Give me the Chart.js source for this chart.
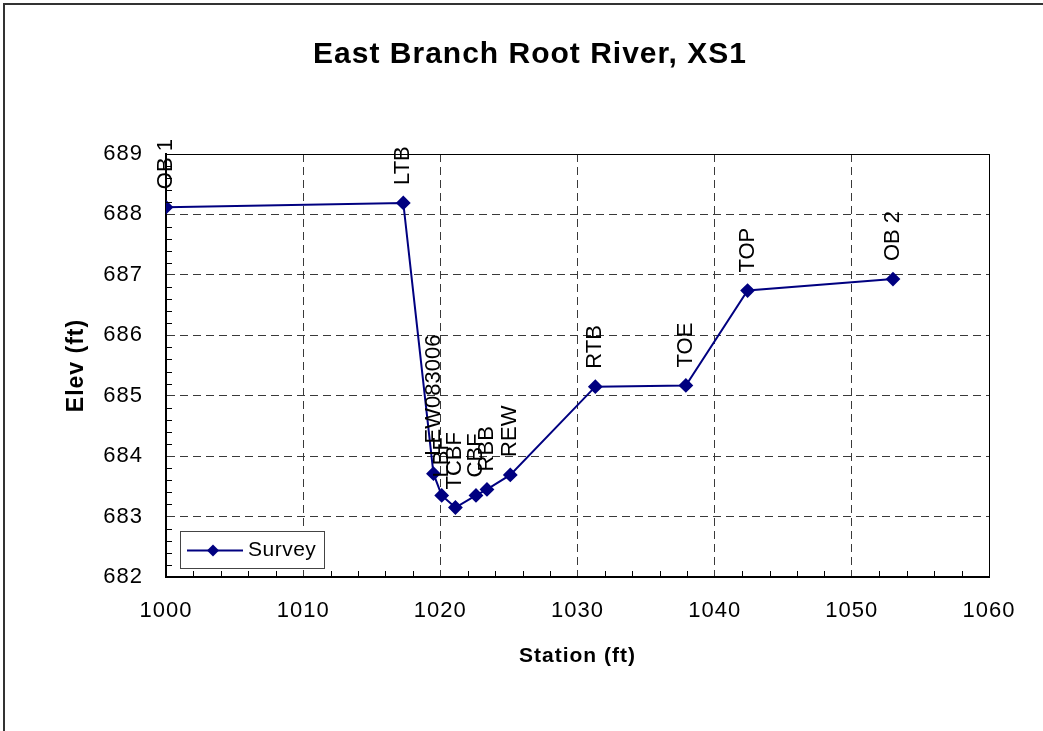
<!DOCTYPE html>
<html>
<head>
<meta charset="utf-8">
<title>East Branch Root River, XS1</title>
<script src="https://cdn.jsdelivr.net/npm/chart.js@4/dist/chart.umd.min.js"></script>
<style>
  html, body { margin: 0; padding: 0; background: #fff; }
  canvas { display: block; }
</style>
</head>
<body>
<canvas id="xs1" width="1043" height="731"></canvas>
<script>
// --- Data ---
const stations = [1000.0, 1017.3, 1019.5, 1020.1, 1021.1, 1022.6, 1023.4, 1025.1, 1031.3, 1037.9, 1042.4, 1053.0];
const elevations = [688.12, 688.19, 683.71, 683.35, 683.15, 683.35, 683.45, 683.69, 685.15, 685.17, 686.74, 686.93];
const pointNames = ["OB 1", "LTB", "LEW083006", "LBF", "TCBF", "CBF", "RBB", "REW", "RTB", "TOE", "TOP", "OB 2"];

const xTicks = [1000, 1010, 1020, 1030, 1040, 1050, 1060];
const yTicks = [682, 683, 684, 685, 686, 687, 688, 689];

const chartTitle = "East Branch Root River, XS1";

const NAVY = "#000080";
const FONT = "Arial, 'Liberation Sans', sans-serif";

// white page, outer chart frame, title
const framePlugin = {
    id: "frame",
    beforeUpdate(chart) {
        chart.ctx.letterSpacing = "1px";
    },
    beforeDraw(chart) {
        const ctx = chart.ctx;
        ctx.letterSpacing = "1px";
        ctx.save();
        ctx.fillStyle = "#fff";
        ctx.fillRect(0, 0, chart.width, chart.height);
        ctx.strokeStyle = "#333";
        ctx.lineWidth = 2;
        ctx.beginPath();
        ctx.moveTo(4, chart.height + 5);
        ctx.lineTo(4, 4);
        ctx.lineTo(chart.width + 5, 4);
        ctx.stroke();

        ctx.fillStyle = "#000";
        ctx.font = "bold 30px " + FONT;
        ctx.textAlign = "center";
        ctx.textBaseline = "middle";
        ctx.fillText(chartTitle, 530, 55);
        ctx.restore();
    }
};

// minor ticks, plot box, point names, legend
const extrasPlugin = {
    id: "extras",
    afterDatasetsDraw(chart) {
        const ctx = chart.ctx;
        const area = chart.chartArea;
        const xs = chart.scales.x;
        const ys = chart.scales.y;
        ctx.save();
        ctx.letterSpacing = "0px";

        // top / right sides of the plot box
        ctx.strokeStyle = "#000";
        ctx.lineWidth = 1;
        ctx.beginPath();
        ctx.moveTo(area.left, area.top + 0.5);
        ctx.lineTo(area.right + 0.5, area.top + 0.5);
        ctx.lineTo(area.right + 0.5, area.bottom);
        ctx.stroke();

        // minor ticks
        ctx.beginPath();
        for (let i = 1; i < 35; i++) {
            if (i % 5 === 0) continue;
            const py = Math.round(ys.getPixelForValue(682 + i * 0.2)) + 0.5;
            ctx.moveTo(area.left, py);
            ctx.lineTo(area.left + 6, py);
        }
        for (let i = 1; i < 30; i++) {
            if (i % 5 === 0) continue;
            const px = Math.round(xs.getPixelForValue(1000 + i * 2)) + 0.5;
            ctx.moveTo(px, area.bottom);
            ctx.lineTo(px, area.bottom - 6);
        }
        ctx.stroke();

        // rotated point names
        const meta = chart.getDatasetMeta(0);
        ctx.fillStyle = "#000";
        ctx.font = "22px " + FONT;
        ctx.textAlign = "left";
        ctx.textBaseline = "middle";
        meta.data.forEach((pt, i) => {
            ctx.save();
            ctx.translate(pt.x, pt.y - 18);
            ctx.rotate(-Math.PI / 2);
            ctx.fillText(pointNames[i], 0, 0);
            ctx.restore();
        });

        // legend box (lower left, inside plot)
        const lx = 180.5, ly = 531.5, lw = 144, lh = 37;
        ctx.fillStyle = "#fff";
        ctx.fillRect(lx, ly, lw, lh);
        ctx.strokeStyle = "#444";
        ctx.lineWidth = 1;
        ctx.strokeRect(lx, ly, lw, lh);
        const my = ly + lh / 2 + 0.5;
        ctx.strokeStyle = NAVY;
        ctx.lineWidth = 2;
        ctx.beginPath();
        ctx.moveTo(187, my);
        ctx.lineTo(243, my);
        ctx.stroke();
        ctx.fillStyle = NAVY;
        ctx.beginPath();
        ctx.moveTo(207, my);
        ctx.lineTo(213, my - 6);
        ctx.lineTo(219, my);
        ctx.lineTo(213, my + 6);
        ctx.closePath();
        ctx.fill();
        ctx.fillStyle = "#000";
        ctx.font = "21px " + FONT;
        ctx.letterSpacing = "0.5px";
        ctx.textBaseline = "middle";
        ctx.fillText(chart.data.datasets[0].label, 248, my);

        ctx.restore();
    }
};

const points = stations.map((s, i) => ({ x: s, y: elevations[i] }));

new Chart(document.getElementById("xs1"), {
    type: "scatter",
    data: {
        datasets: [
            {
                label: "Survey",
                data: points,
                showLine: true,
                borderColor: NAVY,
                backgroundColor: NAVY,
                borderWidth: 2,
                pointStyle: "rectRot",
                pointRadius: 6,
                pointHoverRadius: 6,
                tension: 0
            }
        ]
    },
    options: {
        responsive: false,
        animation: false,
        events: [],
        layout: { padding: { top: 154, right: 54, bottom: 4, left: 4 } },
        plugins: {
            legend: { display: false },
            tooltip: { enabled: false },
            title: { display: false }
        },
        scales: {
            x: {
                type: "linear",
                min: 1000,
                max: 1060,
                afterFit: (s) => { s.height = 150; },
                afterBuildTicks: (s) => { s.ticks = xTicks.map(v => ({ value: v })); },
                ticks: {
                    color: "#000",
                    font: { family: FONT, size: 22 },
                    padding: 21,
                    maxRotation: 0,
                    callback: (v) => String(v)
                },
                grid: { color: "#3a3a3a", lineWidth: 1, drawTicks: false },
                border: { display: true, color: "#000", width: 2, dash: [8, 5] },
                title: {
                    display: true,
                    text: "Station (ft)",
                    color: "#000",
                    font: { family: FONT, size: 21, weight: "bold", lineHeight: 1.2 },
                    padding: { top: 0, bottom: 58 }
                }
            },
            y: {
                type: "linear",
                min: 682,
                max: 689,
                afterFit: (s) => { s.width = 162; },
                afterBuildTicks: (s) => { s.ticks = yTicks.map(v => ({ value: v })); },
                ticks: {
                    color: "#000",
                    font: { family: FONT, size: 22 },
                    padding: 23,
                    callback: (v) => String(v)
                },
                grid: { color: "#3a3a3a", lineWidth: 1, drawTicks: false },
                border: { display: true, color: "#000", width: 2, dash: [8, 5] },
                title: {
                    display: true,
                    text: "Elev (ft)",
                    color: "#000",
                    font: { family: FONT, size: 23, weight: "bold", lineHeight: 1.2 },
                    padding: { top: 59, bottom: 0 }
                }
            }
        }
    },
    plugins: [framePlugin, extrasPlugin]
});
</script>
</body>
</html>
